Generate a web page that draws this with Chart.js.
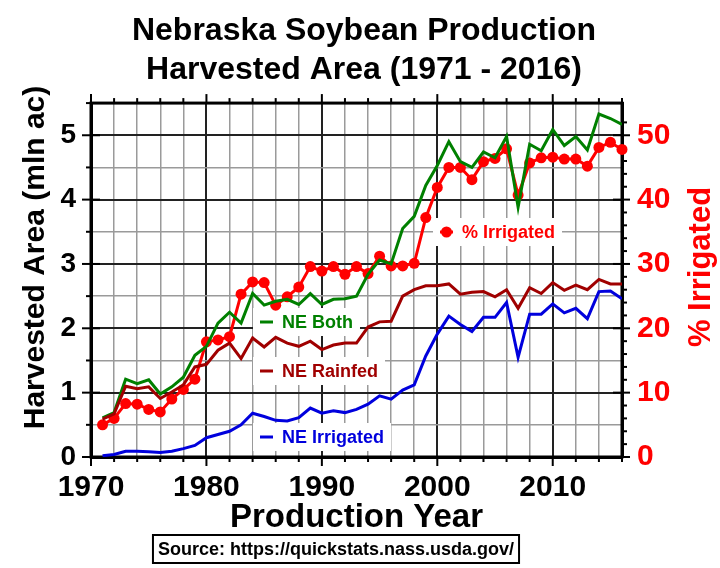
<!DOCTYPE html>
<html>
<head>
<meta charset="utf-8">
<style>
html,body{margin:0;padding:0;background:#fff}
#wrap{width:720px;height:568px}
</style>
<script src="https://cdn.jsdelivr.net/npm/chart.js@4"></script>
</head>
<body>
<div id="wrap"><canvas id="c" width="720" height="568"></canvas></div>
<script>
// Nebraska soybean harvested area, 1971-2016 (mln acres) and % irrigated
const years=[1971,1972,1973,1974,1975,1976,1977,1978,1979,1980,1981,1982,1983,1984,1985,1986,1987,1988,1989,1990,
  1991,1992,1993,1994,1995,1996,1997,1998,1999,2000,2001,2002,2003,2004,2005,2006,2007,2008,2009,2010,
  2011,2012,2013,2014,2015,2016];
const neBoth=[0.61,0.69,1.21,1.14,1.20,0.98,1.09,1.24,1.58,1.72,2.08,2.25,2.08,2.54,2.36,2.42,2.45,2.37,2.54,2.37,
  2.45,2.46,2.50,2.84,3.06,3.00,3.55,3.74,4.22,4.53,4.90,4.59,4.50,4.74,4.65,4.98,3.88,4.86,4.76,5.09,
  4.84,4.98,4.77,5.33,5.26,5.17];
const neRainfed=[0.59,0.67,1.10,1.06,1.09,0.91,1.01,1.12,1.40,1.44,1.66,1.77,1.53,1.85,1.71,1.86,1.77,1.72,1.80,1.67,
  1.74,1.77,1.77,2.02,2.10,2.11,2.50,2.60,2.66,2.66,2.69,2.53,2.56,2.57,2.49,2.60,2.31,2.63,2.54,2.71,
  2.59,2.67,2.60,2.76,2.69,2.69];
const neIrrigated=[0.02,0.04,0.09,0.09,0.08,0.07,0.09,0.13,0.18,0.30,0.35,0.40,0.50,0.68,0.63,0.57,0.56,0.61,0.76,0.68,
  0.72,0.69,0.74,0.82,0.95,0.90,1.04,1.12,1.57,1.91,2.19,2.06,1.95,2.17,2.17,2.40,1.55,2.22,2.22,2.38,
  2.24,2.31,2.15,2.57,2.58,2.46];
const pctIrrigated=[5.0,6.0,8.3,8.2,7.4,7.0,9.0,10.5,12.1,17.9,18.2,18.7,25.3,27.2,27.1,23.6,24.9,26.4,29.6,28.9,
  29.6,28.4,29.6,28.5,31.2,29.7,29.7,30.1,37.2,41.9,45.0,45.0,43.1,45.9,46.4,47.9,40.7,45.7,46.5,46.6,
  46.3,46.3,45.2,48.1,48.9,47.8];

const FONT="'Liberation Sans', Arial, sans-serif";
const GREEN='#008000', DKRED='#a00000', BLUE='#0000dd', RED='#ff0000';
const pts=arr=>years.map((y,i)=>({x:y,y:arr[i]}));

const gridColor=(ctx,major)=>ctx.tick&&major(ctx.tick.value)?'#222':'#9a9a9a';
const gridWidth=(ctx,major)=>ctx.tick&&major(ctx.tick.value)?2:1.5;
const isDecade=v=>Math.round(v)%10===0;
const isInt=v=>Math.abs(v-Math.round(v))<1e-6;

function line(ctx,x1,y1,x2,y2){ctx.beginPath();ctx.moveTo(x1,y1);ctx.lineTo(x2,y2);ctx.stroke();}

const labels=[
  {text:'NE Both',color:GREEN,x:260,y:322},
  {text:'NE Rainfed',color:DKRED,x:260,y:371},
  {text:'NE Irrigated',color:BLUE,x:260,y:437},
  {text:'% Irrigated',color:RED,x:440,y:232,dot:true}
];

const decor={
  id:'decor',
  beforeDatasetsDraw(chart){
    const ctx=chart.ctx, ca=chart.chartArea;
    const sx=chart.scales.x, sy=chart.scales.y, sy2=chart.scales.y2;
    ctx.save();
    // white boxes behind the series labels
    ctx.font='bold 18px '+FONT;
    labels.forEach(l=>{
      const w=ctx.measureText(l.text).width;
      ctx.fillStyle='#fff';
      ctx.fillRect(l.x-7,l.y-14,w+22+14,28);
    });
    // frame and tick marks
    ctx.strokeStyle='#000';ctx.lineWidth=3;
    ctx.strokeRect(ca.left,ca.top,ca.right-ca.left,ca.bottom-ca.top);
    ctx.lineWidth=2;
    sx.ticks.forEach(t=>{
      const x=sx.getPixelForValue(t.value), L=isDecade(t.value)?9:5;
      line(ctx,x,ca.bottom,x,ca.bottom+L);
      line(ctx,x,ca.top,x,ca.top-L);
    });
    sy.ticks.forEach(t=>{
      const y=sy.getPixelForValue(t.value);
      if(isInt(t.value)) line(ctx,ca.left-9,y,ca.left+9,y); else line(ctx,ca.left-5,y,ca.left,y);
    });
    sy2.ticks.forEach(t=>{
      if(Math.round(t.value)%2) return;
      const y=sy2.getPixelForValue(t.value);
      if(isDecade(t.value)) line(ctx,ca.right-9,y,ca.right+8,y); else line(ctx,ca.right,y,ca.right+5,y);
    });
    ctx.restore();
  },
  afterDraw(chart){
    const ctx=chart.ctx;
    ctx.save();
    // legend-style labels
    ctx.font='bold 18px '+FONT;
    ctx.textBaseline='middle';ctx.textAlign='left';
    labels.forEach(l=>{
      ctx.strokeStyle=l.color;ctx.fillStyle=l.color;ctx.lineWidth=3;
      line(ctx,l.x,l.y,l.x+13,l.y);
      if(l.dot){ctx.beginPath();ctx.arc(l.x+6.5,l.y,5.5,0,Math.PI*2);ctx.fill();}
      ctx.fillText(l.text,l.x+22,l.y+1);
    });
    // vertical axis titles
    ctx.textAlign='center';ctx.textBaseline='alphabetic';
    ctx.fillStyle='#000';ctx.font='bold 30px '+FONT;
    ctx.save();ctx.translate(43.5,257.5);ctx.rotate(-Math.PI/2);ctx.fillText('Harvested Area (mln ac)',0,0);ctx.restore();
    ctx.fillStyle=RED;ctx.font='bold 31px '+FONT;
    ctx.save();ctx.translate(710,267);ctx.rotate(-Math.PI/2);ctx.fillText('% Irrigated',0,0);ctx.restore();
    // source box
    ctx.font='bold 18px '+FONT;ctx.fillStyle='#000';ctx.textBaseline='middle';
    const src='Source: https://quickstats.nass.usda.gov/';
    const w=ctx.measureText(src).width;
    ctx.lineWidth=2;ctx.strokeStyle='#000';
    ctx.strokeRect(336-w/2-5,535,w+10,28);
    ctx.fillText(src,336,550);
    ctx.restore();
  }
};

new Chart(document.getElementById('c'),{
  type:'line',
  data:{datasets:[
    {label:'NE Irrigated',data:pts(neIrrigated),yAxisID:'y',borderColor:BLUE,borderWidth:3,pointRadius:0},
    {label:'NE Rainfed',data:pts(neRainfed),yAxisID:'y',borderColor:DKRED,borderWidth:3,pointRadius:0},
    {label:'NE Both',data:pts(neBoth),yAxisID:'y',borderColor:GREEN,borderWidth:3,pointRadius:0},
    {label:'% Irrigated',data:pts(pctIrrigated),yAxisID:'y2',borderColor:RED,backgroundColor:RED,borderWidth:3,
      pointRadius:5.5,pointBackgroundColor:RED,pointBorderWidth:0,clip:false}
  ]},
  options:{
    responsive:false,animation:false,devicePixelRatio:1,
    layout:{padding:{left:8,right:0,top:0,bottom:30}},
    plugins:{
      legend:{display:false},tooltip:{enabled:false},
      title:{display:true,text:['Nebraska Soybean Production','Harvested Area (1971 - 2016)'],color:'#000',
        font:{family:FONT,size:32,weight:'bold',lineHeight:1.22},padding:{top:12,bottom:13}}
    },
    scales:{
      x:{type:'linear',position:'bottom',min:1970,max:2016,
        afterFit:s=>{s.height=81;},
        ticks:{stepSize:2,autoSkip:false,maxRotation:0,padding:13,color:'#000',
          font:{family:FONT,size:30,weight:'bold'},callback:v=>isDecade(v)?String(Math.round(v)):''},
        grid:{drawTicks:false,color:c=>gridColor(c,isDecade),lineWidth:c=>gridWidth(c,isDecade)},
        border:{display:true,color:'#000',width:3},
        title:{display:true,text:'Production Year',color:'#000',font:{family:FONT,size:33,weight:'bold',lineHeight:1.2},padding:{top:0,bottom:0}}
      },
      y:{position:'left',min:0,max:5.5,
        afterFit:s=>{s.width=83;},
        ticks:{stepSize:0.5,autoSkip:false,padding:15,color:'#000',
          font:{family:FONT,size:28,weight:'bold'},callback:v=>isInt(v)?String(Math.round(v)):''},
        grid:{drawTicks:false,color:c=>gridColor(c,isInt),lineWidth:c=>gridWidth(c,isInt)},
        border:{display:true,color:'#000',width:3}
      },
      y2:{position:'right',min:0,max:55,
        afterFit:s=>{s.width=98;},
        ticks:{stepSize:2,autoSkip:false,padding:15,color:RED,
          font:{family:FONT,size:30,weight:'bold'},callback:v=>isDecade(v)&&isInt(v)?String(Math.round(v)):''},
        grid:{display:false,drawTicks:false},
        border:{display:true,color:'#000',width:3}
      }
    }
  },
  plugins:[decor]
});
</script>
</body>
</html>
